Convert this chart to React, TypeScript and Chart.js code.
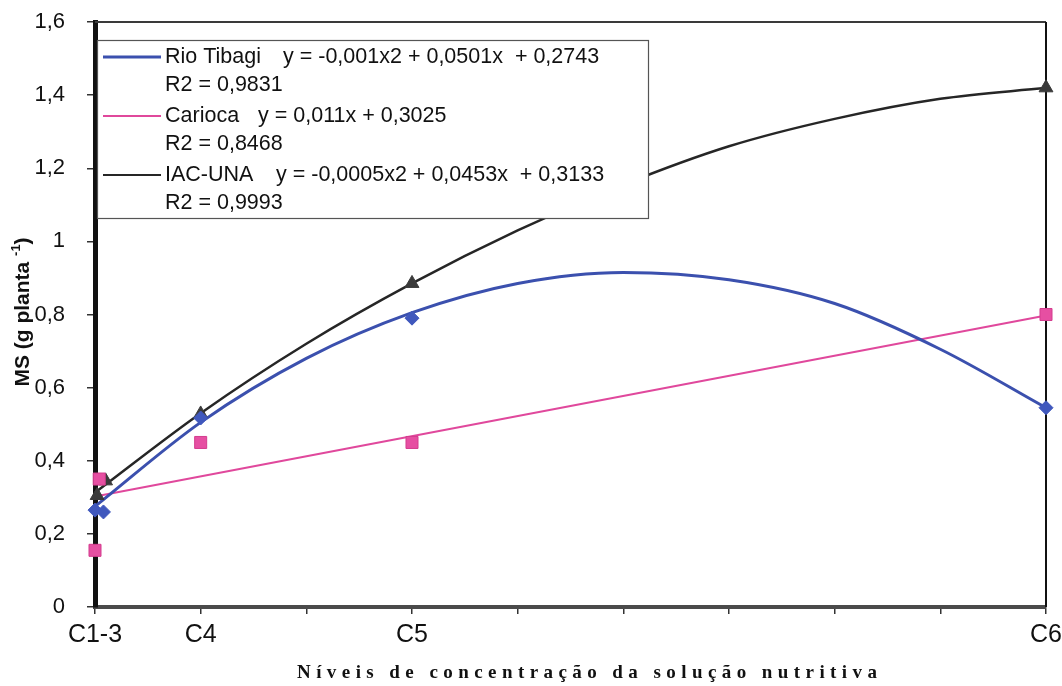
import React, { useEffect, useRef } from 'react';
import { Chart, registerables } from 'chart.js';

Chart.register(...registerables);

// Nutrient solution levels on a linear axis (C1-3 = 0 ... C6 = 45)
const trendX = [0, 5, 10, 15, 20, 25, 30, 35, 40, 45];
const rioTibagiTrend = [0.275, 0.505, 0.68, 0.805, 0.885, 0.915, 0.895, 0.83, 0.705, 0.545];
const iacUnaTrend = [0.313, 0.53, 0.72, 0.885, 1.03, 1.155, 1.26, 1.335, 1.39, 1.42];
const cariocaTrendX = [0, 45];
const cariocaTrend = [0.3025, 0.7975];

// Observed dry matter values
const rioTibagiX = [0, 0.4, 5, 15, 45];
const rioTibagiY = [0.265, 0.26, 0.517, 0.79, 0.545];
const cariocaX = [0, 0.2, 5, 15, 45];
const cariocaY = [0.155, 0.35, 0.45, 0.45, 0.8];
const iacUnaX = [0.1, 0.5, 5, 15, 45];
const iacUnaY = [0.305, 0.345, 0.528, 0.885, 1.42];

const xTickValues = [0, 5, 15, 45];
const xTickLabels = ['C1-3', 'C4', 'C5', 'C6'];

const seriesNames = ['Rio Tibagi', 'Carioca', 'IAC-UNA'];
const equations = [
  'y = -0,001x2 + 0,0501x  + 0,2743',
  'y = 0,011x + 0,3025',
  'y = -0,0005x2 + 0,0453x  + 0,3133',
];
const r2Labels = ['R2 = 0,9831', 'R2 = 0,8468', 'R2 = 0,9993'];
const lineColors = ['#3b50ae', '#e0489c', '#262626'];
const markerColors = ['#4058bd', '#e64fa2', '#3a3a3a'];

const yTitleMain = 'MS (g planta ';
const yTitleSup = '-1';
const yTitleEnd = ')';
const xTitle = 'Níveis de concentração da solução nutritiva';

const SANS = '"Liberation Sans", Arial, sans-serif';
const SERIF = '"Liberation Serif", "Times New Roman", serif';

const zip = (xs: number[], ys: number[]) => xs.map((x, i) => ({ x, y: ys[i] }));

const decorations = {
  id: 'decorations',
  beforeDatasetsDraw(chart: any) {
    const { ctx, chartArea: a } = chart;
    ctx.save();
    ctx.strokeStyle = '#3a3a3a';
    ctx.lineWidth = 2;
    ctx.beginPath();
    ctx.moveTo(a.left, a.top);
    ctx.lineTo(a.right, a.top);
    ctx.stroke();
    ctx.strokeStyle = '#111';
    ctx.beginPath();
    ctx.moveTo(a.right, a.top);
    ctx.lineTo(a.right, a.bottom);
    ctx.stroke();
    ctx.restore();
  },
  afterDatasetsDraw(chart: any) {
    const { ctx } = chart;
    ctx.save();
    // legend box
    const bx = 97, by = 40, bw = 551, bh = 178;
    ctx.fillStyle = '#fff';
    ctx.fillRect(bx, by, bw, bh);
    ctx.strokeStyle = '#555';
    ctx.lineWidth = 1.2;
    ctx.strokeRect(bx + 0.5, by + 0.5, bw, bh);
    const eqX = [283, 258, 276];
    ctx.font = `21.5px ${SANS}`;
    ctx.textBaseline = 'middle';
    ctx.fillStyle = '#111';
    for (let i = 0; i < seriesNames.length; i++) {
      const rowY = 57 + i * 59;
      ctx.strokeStyle = lineColors[i];
      ctx.lineWidth = i === 0 ? 3 : 2;
      ctx.beginPath();
      ctx.moveTo(103, rowY);
      ctx.lineTo(161, rowY);
      ctx.stroke();
      ctx.fillText(seriesNames[i], 165, rowY);
      ctx.fillText(equations[i], eqX[i], rowY);
      ctx.fillText(r2Labels[i], 165, rowY + 28);
    }
    ctx.restore();
  },
  afterDraw(chart: any) {
    const { ctx } = chart;
    ctx.save();
    // y axis title, rotated, with superscript
    ctx.translate(22, 312);
    ctx.rotate(-Math.PI / 2);
    ctx.fillStyle = '#111';
    ctx.textBaseline = 'alphabetic';
    const mainFont = `bold 21px ${SANS}`;
    const supFont = `bold 13px ${SANS}`;
    ctx.font = mainFont;
    const w1 = ctx.measureText(yTitleMain).width;
    const w3 = ctx.measureText(yTitleEnd).width;
    ctx.font = supFont;
    const w2 = ctx.measureText(yTitleSup).width;
    const x0 = -(w1 + w2 + w3) / 2;
    ctx.font = mainFont;
    ctx.fillText(yTitleMain, x0, 7);
    ctx.font = supFont;
    ctx.fillText(yTitleSup, x0 + w1, -2);
    ctx.font = mainFont;
    ctx.fillText(yTitleEnd, x0 + w1 + w2, 7);
    ctx.restore();

    // x axis title, letter-spaced serif
    ctx.save();
    ctx.font = `bold 19px ${SERIF}`;
    ctx.fillStyle = '#111';
    ctx.textBaseline = 'middle';
    const plain = ctx.measureText(xTitle).width;
    const targetW = 580;
    const spacing = (targetW - plain) / (xTitle.length - 1);
    (ctx as any).letterSpacing = `${spacing}px`;
    ctx.textAlign = 'left';
    ctx.fillText(xTitle, 587 - targetW / 2, 673);
    ctx.restore();
  },
};

export default function App() {
  const canvasRef = useRef<HTMLCanvasElement | null>(null);

  useEffect(() => {
    const canvas = canvasRef.current;
    if (!canvas) return;
    const chart = new Chart(canvas, {
      type: 'scatter',
      data: {
        datasets: [
          {
            label: 'Rio Tibagi',
            data: zip(rioTibagiX, rioTibagiY),
            pointStyle: 'rectRot',
            pointRadius: 7,
            backgroundColor: markerColors[0],
            borderColor: markerColors[0],
            borderWidth: 1,
            showLine: false,
            clip: false,
            order: 0,
          },
          {
            label: 'Carioca',
            data: zip(cariocaX, cariocaY),
            pointStyle: 'rect',
            pointRadius: 8.5,
            backgroundColor: markerColors[1],
            borderColor: '#d43d8e',
            borderWidth: 1,
            showLine: false,
            clip: false,
            order: 0,
          },
          {
            label: 'IAC-UNA',
            data: zip(iacUnaX, iacUnaY),
            pointStyle: 'triangle',
            pointRadius: 8,
            backgroundColor: markerColors[2],
            borderColor: markerColors[2],
            borderWidth: 1,
            showLine: false,
            clip: false,
            order: 0,
          },
          {
            label: 'Rio Tibagi trend',
            data: zip(trendX, rioTibagiTrend),
            showLine: true,
            pointRadius: 0,
            borderColor: lineColors[0],
            borderWidth: 3,
            cubicInterpolationMode: 'monotone',
            clip: false,
            order: 1,
          },
          {
            label: 'Carioca trend',
            data: zip(cariocaTrendX, cariocaTrend),
            showLine: true,
            pointRadius: 0,
            borderColor: lineColors[1],
            borderWidth: 2,
            clip: false,
            order: 1,
          },
          {
            label: 'IAC-UNA trend',
            data: zip(trendX, iacUnaTrend),
            showLine: true,
            pointRadius: 0,
            borderColor: lineColors[2],
            borderWidth: 2.5,
            cubicInterpolationMode: 'monotone',
            clip: false,
            order: 1,
          },
        ],
      },
      options: {
        animation: false,
        responsive: false,
        layout: { padding: { left: 0, top: 22, right: 16, bottom: 0 } },
        plugins: { legend: { display: false }, tooltip: { enabled: false } },
        scales: {
          x: {
            type: 'linear',
            min: 0,
            max: 45,
            afterFit: (s: any) => {
              s.height = 79;
              s.paddingLeft = 0;
              s.paddingRight = 0;
            },
            afterBuildTicks: (s: any) => {
              s.ticks = [0, 5, 10, 15, 20, 25, 30, 35, 40, 45].map((v) => ({ value: v }));
            },
            ticks: {
              autoSkip: false,
              maxRotation: 0,
              padding: 6,
              color: '#111',
              font: { family: SANS, size: 25 },
              callback: (v: any) => {
                const i = xTickValues.indexOf(Number(v));
                return i >= 0 ? xTickLabels[i] : '';
              },
            },
            grid: { drawOnChartArea: false, drawTicks: true, tickLength: 7, color: '#333', lineWidth: 1.5 },
            border: { color: '#4a4a4a', width: 4 },
          },
          y: {
            type: 'linear',
            min: 0,
            max: 1.6,
            afterFit: (s: any) => {
              s.width = 95;
              s.paddingTop = 0;
              s.paddingBottom = 0;
            },
            ticks: {
              stepSize: 0.2,
              padding: 22,
              color: '#111',
              font: { family: SANS, size: 22 },
              callback: (v: any) => String(Number(Number(v).toFixed(1))).replace('.', ','),
            },
            grid: { drawOnChartArea: false, drawTicks: true, tickLength: 8, color: '#333', lineWidth: 1.5 },
            border: { color: '#111', width: 5 },
          },
        },
      },
      plugins: [decorations],
    } as any);
    return () => chart.destroy();
  }, []);

  return (
    <div style={{ position: 'fixed', left: 0, top: 0, width: 1062, height: 686, background: '#fff' }}>
      <canvas ref={canvasRef} width={1062} height={686} style={{ display: 'block' }} />
    </div>
  );
}
